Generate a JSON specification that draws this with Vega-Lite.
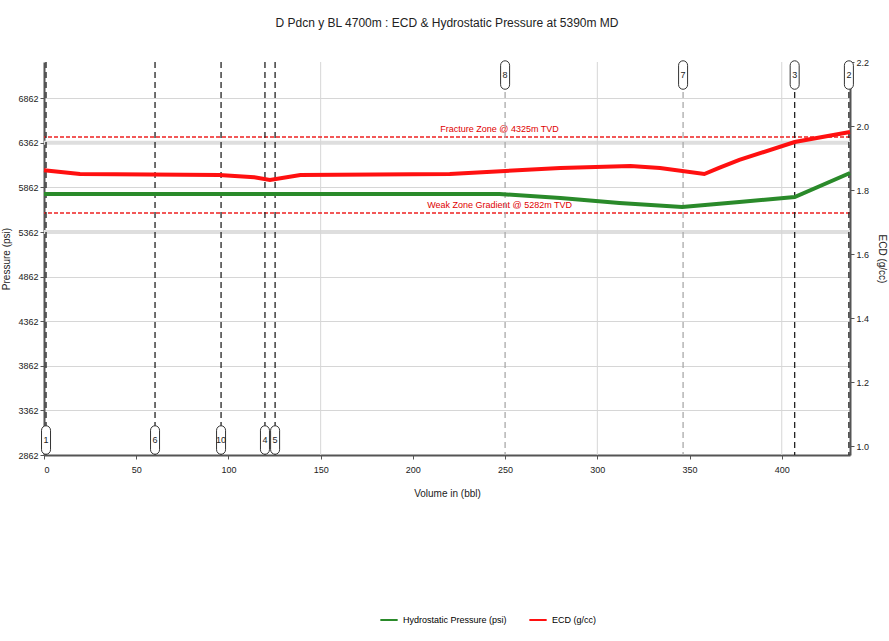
{
  "$schema": "https://vega.github.io/schema/vega-lite/v6.json",
  "autosize": {"type": "none"},
  "width": 806,
  "height": 393,
  "padding": {"left": 44, "top": 62, "right": 39, "bottom": 186},
  "background": "white",
  "config": {
    "font": "Liberation Sans",
    "view": {"stroke": null},
    "axis": {"labelFont": "Liberation Sans", "titleFont": "Liberation Sans", "labelFontSize": 9, "titleFontSize": 10, "titleFontWeight": "normal", "labelColor": "#222", "titleColor": "#222", "domainColor": "#555", "domainWidth": 2, "tickColor": "#555", "gridColor": "#d6d6d6"},
    "legend": {"labelFont": "Liberation Sans", "labelFontSize": 9}
  },
  "title": {"text": "D Pdcn y BL 4700m : ECD & Hydrostatic Pressure at 5390m MD", "fontSize": 12, "font": "Liberation Sans", "fontWeight": "normal", "color": "#222", "offset": 28, "anchor": "middle"},
  "datasets": {
    "hyd": [
      {"vol": 0, "val": 5788, "series": "Hydrostatic Pressure (psi)"},
      {"vol": 247, "val": 5788, "series": "Hydrostatic Pressure (psi)"},
      {"vol": 280, "val": 5743, "series": "Hydrostatic Pressure (psi)"},
      {"vol": 312, "val": 5687, "series": "Hydrostatic Pressure (psi)"},
      {"vol": 346, "val": 5642, "series": "Hydrostatic Pressure (psi)"},
      {"vol": 377, "val": 5698, "series": "Hydrostatic Pressure (psi)"},
      {"vol": 407, "val": 5754, "series": "Hydrostatic Pressure (psi)"},
      {"vol": 437, "val": 6024, "series": "Hydrostatic Pressure (psi)"}
    ],
    "ecd": [
      {"vol": 0, "val": 1.862, "series": "ECD (g/cc)"},
      {"vol": 19.5, "val": 1.85, "series": "ECD (g/cc)"},
      {"vol": 95, "val": 1.847, "series": "ECD (g/cc)"},
      {"vol": 114, "val": 1.84, "series": "ECD (g/cc)"},
      {"vol": 122.5, "val": 1.831, "series": "ECD (g/cc)"},
      {"vol": 139, "val": 1.847, "series": "ECD (g/cc)"},
      {"vol": 220, "val": 1.85, "series": "ECD (g/cc)"},
      {"vol": 280, "val": 1.869, "series": "ECD (g/cc)"},
      {"vol": 318, "val": 1.875, "series": "ECD (g/cc)"},
      {"vol": 334, "val": 1.869, "series": "ECD (g/cc)"},
      {"vol": 358, "val": 1.85, "series": "ECD (g/cc)"},
      {"vol": 366, "val": 1.869, "series": "ECD (g/cc)"},
      {"vol": 377, "val": 1.894, "series": "ECD (g/cc)"},
      {"vol": 407, "val": 1.95, "series": "ECD (g/cc)"},
      {"vol": 437, "val": 1.981, "series": "ECD (g/cc)"}
    ],
    "events": [
      {"event": "1", "vol": 1.1, "pos": "bottom", "kind": "main"},
      {"event": "6", "vol": 60.2, "pos": "bottom", "kind": "main"},
      {"event": "10", "vol": 96, "pos": "bottom", "kind": "main"},
      {"event": "4", "vol": 119.8, "pos": "bottom", "kind": "main"},
      {"event": "5", "vol": 125.3, "pos": "bottom", "kind": "main"},
      {"event": "8", "vol": 250, "pos": "top", "kind": "sub"},
      {"event": "7", "vol": 346.5, "pos": "top", "kind": "sub"},
      {"event": "3", "vol": 407, "pos": "top", "kind": "main"},
      {"event": "2", "vol": 436.4, "pos": "top", "kind": "main"}
    ],
    "limits": [
      {"name": "Fracture Zone @ 4325m TVD", "val": 6427},
      {"name": "Weak Zone Gradient @ 5282m TVD", "val": 5575}
    ],
    "bands": [{"val": 6362}, {"val": 5362}],
    "vgrid": [{"vol": 150}, {"vol": 300}, {"vol": 400}]
  },
  "resolve": {"scale": {"y": "independent"}, "axis": {"y": "independent"}},
  "layer": [
    {
      "encoding": {
        "x": {"type": "quantitative", "scale": {"domain": [0, 437], "nice": false, "zero": false},
              "axis": {"title": "Volume in (bbl)", "values": [0, 50, 100, 150, 200, 250, 300, 350, 400], "grid": false, "tickSize": 4, "labelPadding": 6, "titlePadding": 14}}
      },
      "layer": [
        {
          "data": {"name": "bands"},
          "mark": {"type": "rule", "color": "#dedede", "strokeWidth": 4},
          "encoding": {"y": {"field": "val", "type": "quantitative", "scale": {"domain": [2862, 7268], "nice": false, "zero": false},
            "axis": {"title": "Pressure (psi)", "values": [2862, 3362, 3862, 4362, 4862, 5362, 5862, 6362, 6862], "format": "d", "grid": true, "tickSize": 4, "titlePadding": 6}}}
        },
        {
          "data": {"name": "vgrid"},
          "mark": {"type": "rule", "color": "#d6d6d6", "strokeWidth": 1},
          "encoding": {"x": {"field": "vol", "type": "quantitative"}}
        },
        {
          "data": {"name": "limits"},
          "mark": {"type": "rule", "color": "#ee2222", "strokeWidth": 1.5, "strokeDash": [4, 2]},
          "encoding": {"y": {"field": "val", "type": "quantitative"}}
        },
        {
          "data": {"name": "limits"},
          "mark": {"type": "text", "color": "#e00000", "fontSize": 9, "baseline": "bottom", "dy": -3},
          "encoding": {"y": {"field": "val", "type": "quantitative"}, "x": {"datum": 247}, "text": {"field": "name"}}
        },
        {
          "data": {"name": "events"},
          "transform": [{"filter": "datum.kind == 'main'"}],
          "mark": {"type": "rule", "color": "#222", "strokeWidth": 1.3, "strokeDash": [6, 4]},
          "encoding": {"x": {"field": "vol", "type": "quantitative"}}
        },
        {
          "data": {"name": "events"},
          "transform": [{"filter": "datum.kind == 'sub'"}],
          "mark": {"type": "rule", "color": "#aaaaaa", "strokeWidth": 1.3, "strokeDash": [6, 4]},
          "encoding": {"x": {"field": "vol", "type": "quantitative"}}
        },
        {
          "data": {"name": "events"},
          "transform": [{"filter": "datum.pos == 'top'"}],
          "mark": {"type": "point", "shape": "M-0.3,-0.65 A0.3,0.3 0 0 1 0.3,-0.65 L0.3,0.65 A0.3,0.3 0 0 1 -0.3,0.65 Z", "size": 900, "filled": true, "fill": "white", "stroke": "#333", "strokeWidth": 1, "opacity": 1},
          "encoding": {"x": {"field": "vol", "type": "quantitative"}, "y": {"datum": 7122}}
        },
        {
          "data": {"name": "events"},
          "transform": [{"filter": "datum.pos == 'bottom'"}],
          "mark": {"type": "point", "shape": "M-0.3,-0.65 A0.3,0.3 0 0 1 0.3,-0.65 L0.3,0.65 A0.3,0.3 0 0 1 -0.3,0.65 Z", "size": 900, "filled": true, "fill": "white", "stroke": "#333", "strokeWidth": 1, "opacity": 1},
          "encoding": {"x": {"field": "vol", "type": "quantitative"}, "y": {"datum": 3030}}
        },
        {
          "data": {"name": "events"},
          "transform": [{"filter": "datum.pos == 'top'"}],
          "mark": {"type": "text", "fontSize": 9, "color": "#222"},
          "encoding": {"x": {"field": "vol", "type": "quantitative"}, "y": {"datum": 7122}, "text": {"field": "event"}}
        },
        {
          "data": {"name": "events"},
          "transform": [{"filter": "datum.pos == 'bottom'"}],
          "mark": {"type": "text", "fontSize": 9, "color": "#222"},
          "encoding": {"x": {"field": "vol", "type": "quantitative"}, "y": {"datum": 3030}, "text": {"field": "event"}}
        },
        {
          "data": {"name": "hyd"},
          "mark": {"type": "line", "strokeWidth": 4},
          "encoding": {
            "x": {"field": "vol", "type": "quantitative"},
            "y": {"field": "val", "type": "quantitative"},
            "color": {"field": "series", "type": "nominal",
              "scale": {"domain": ["Hydrostatic Pressure (psi)", "ECD (g/cc)"], "range": ["#2a8a2a", "#ff1010"]},
              "legend": {"title": null, "orient": "none", "legendX": 335, "legendY": 548, "direction": "horizontal", "symbolType": "stroke", "symbolStrokeWidth": 2, "symbolSize": 300, "columnPadding": 18}}
          }
        }
      ]
    },
    {
      "data": {"name": "ecd"},
      "mark": {"type": "line", "strokeWidth": 4},
      "encoding": {
        "x": {"field": "vol", "type": "quantitative"},
        "y": {"field": "val", "type": "quantitative", "scale": {"domain": [0.972, 2.2], "nice": false, "zero": false},
          "axis": {"orient": "right", "title": "ECD (g/cc)", "titleAngle": 90, "values": [1.0, 1.2, 1.4, 1.6, 1.8, 2.0, 2.2], "format": ".1f", "grid": false, "tickSize": 4, "titlePadding": 8}},
        "color": {"field": "series", "type": "nominal"}
      }
    }
  ]
}
